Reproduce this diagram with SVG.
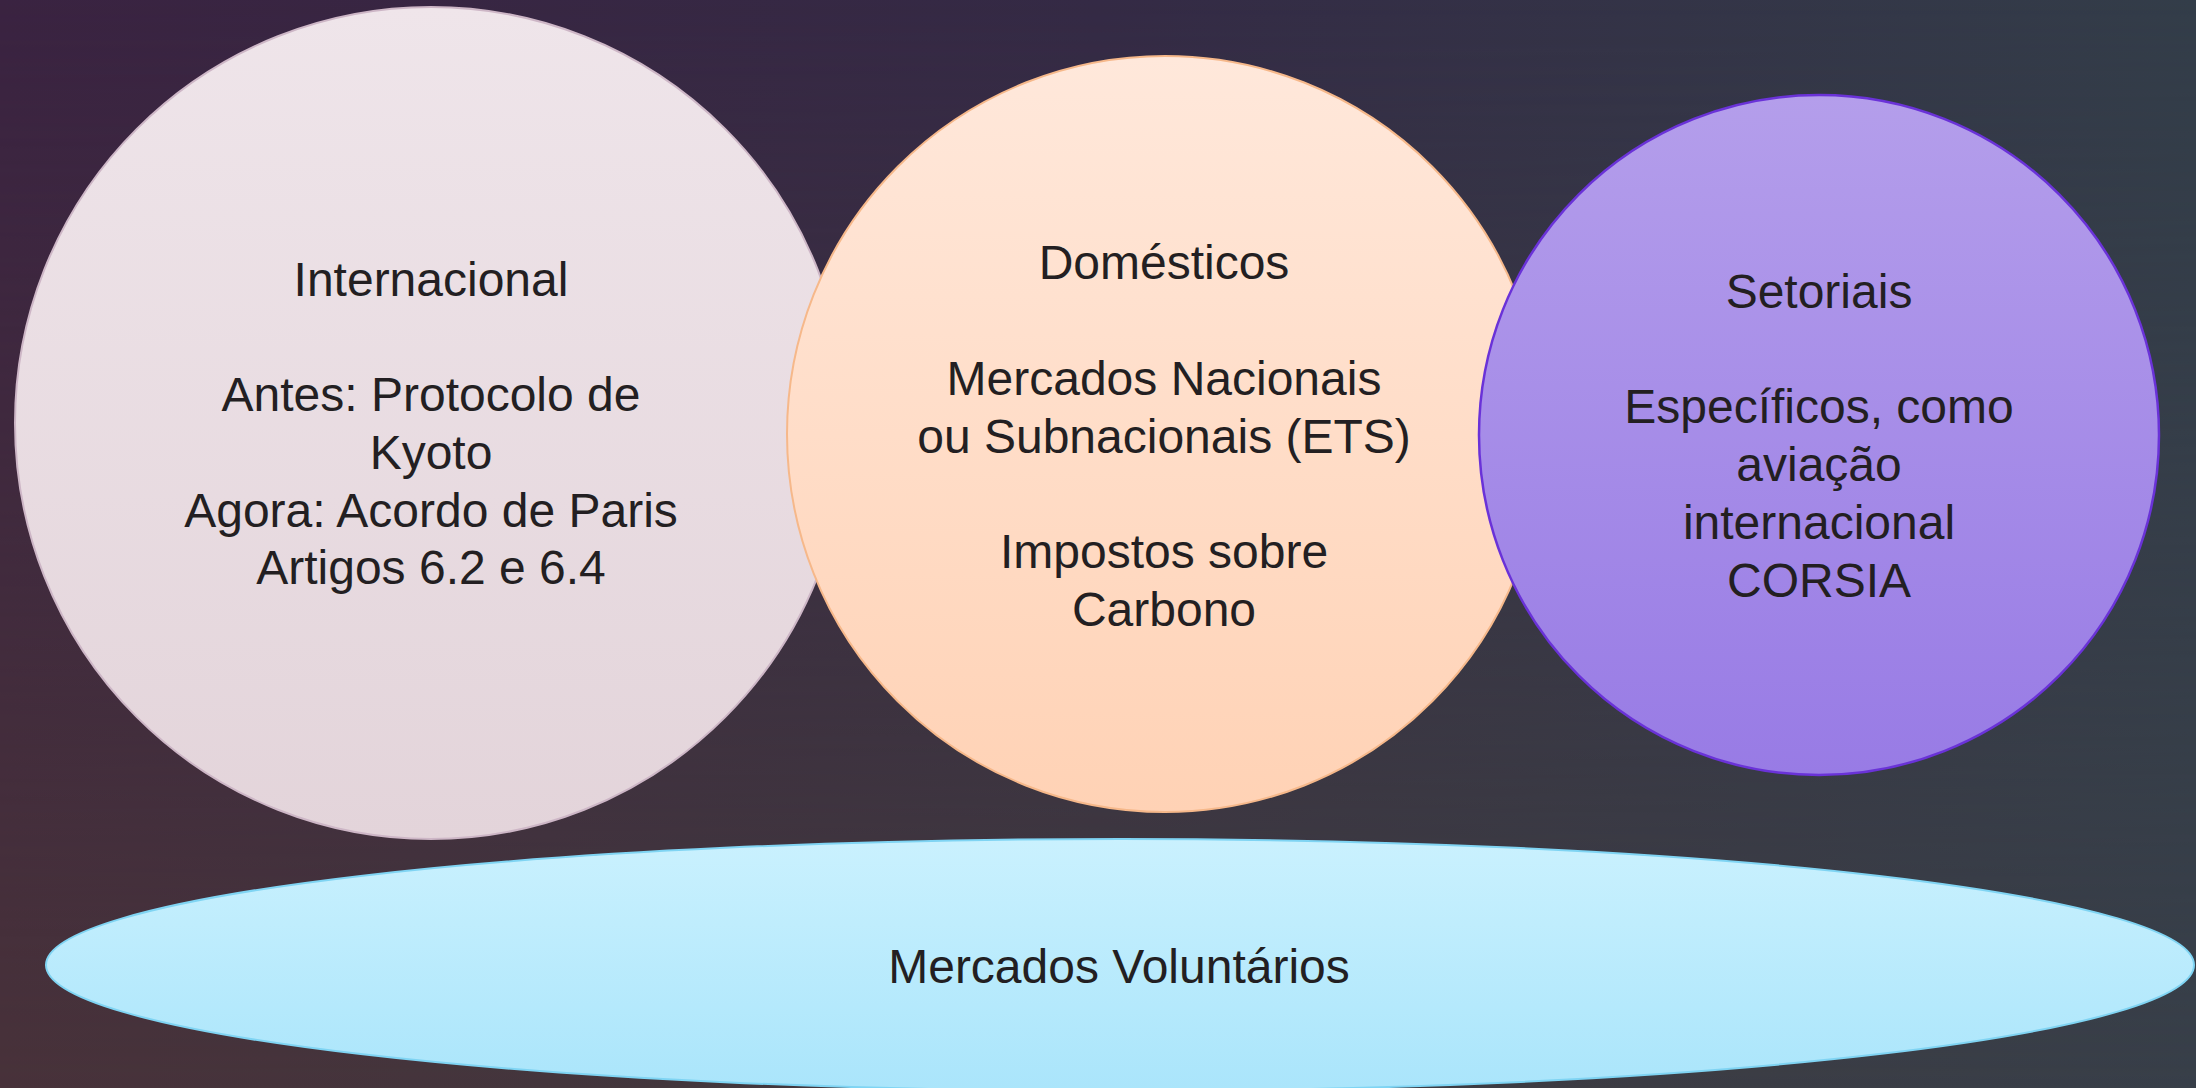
<svg xmlns="http://www.w3.org/2000/svg" width="2196" height="1088" viewBox="0 0 2196 1088">
  <defs>
    <linearGradient id="bgTop" x1="0" y1="0" x2="1" y2="0">
      <stop offset="0" stop-color="#3a2341"/>
      <stop offset="0.5" stop-color="#342a45"/>
      <stop offset="1" stop-color="#333d49"/>
    </linearGradient>
    <linearGradient id="bgBot" x1="0" y1="0" x2="1" y2="0">
      <stop offset="0" stop-color="#48323a"/>
      <stop offset="0.5" stop-color="#403a3f"/>
      <stop offset="1" stop-color="#383f49"/>
    </linearGradient>
    <linearGradient id="fadeV" x1="0" y1="0" x2="0" y2="1">
      <stop offset="0" stop-color="#fff"/>
      <stop offset="1" stop-color="#000"/>
    </linearGradient>
    <mask id="topMask" maskUnits="userSpaceOnUse" x="0" y="0" width="2196" height="1088">
      <rect x="0" y="0" width="2196" height="1088" fill="url(#fadeV)"/>
    </mask>
    <linearGradient id="gLeft" x1="0" y1="0" x2="0" y2="1">
      <stop offset="0" stop-color="#efe5ea"/>
      <stop offset="1" stop-color="#e3d4da"/>
    </linearGradient>
    <linearGradient id="gMid" x1="0" y1="0" x2="0" y2="1">
      <stop offset="0" stop-color="#ffe8db"/>
      <stop offset="1" stop-color="#ffd2b5"/>
    </linearGradient>
    <linearGradient id="gRight" x1="0" y1="0" x2="0" y2="1">
      <stop offset="0" stop-color="#b49eeb"/>
      <stop offset="1" stop-color="#987be5"/>
    </linearGradient>
    <linearGradient id="gEll" x1="0" y1="0" x2="0" y2="1">
      <stop offset="0" stop-color="#caf1fe"/>
      <stop offset="1" stop-color="#aae5fb"/>
    </linearGradient>
  </defs>
  <style>
    .lbl { font-family: "Liberation Sans", Arial, Helvetica, sans-serif; font-size: 48px; fill: #231f22; text-anchor: middle; }
  </style>
  <rect x="0" y="0" width="2196" height="1088" fill="url(#bgBot)"/>
  <rect x="0" y="0" width="2196" height="1088" fill="url(#bgTop)" mask="url(#topMask)"/>

  <g id="internacional">
    <circle cx="431" cy="423" r="416" fill="url(#gLeft)" stroke="#cdb6c6" stroke-width="2"/>
    <text class="lbl" x="431" y="296">Internacional</text>
    <text class="lbl" x="431" y="411">Antes: Protocolo de</text>
    <text class="lbl" x="431" y="469">Kyoto</text>
    <text class="lbl" x="431" y="527">Agora: Acordo de Paris</text>
    <text class="lbl" x="431" y="584">Artigos 6.2 e 6.4</text>
  </g>

  <g id="domesticos">
    <circle cx="1165" cy="434" r="378" fill="url(#gMid)" stroke="#f6b88a" stroke-width="2"/>
    <text class="lbl" x="1164" y="279">Domésticos</text>
    <text class="lbl" x="1164" y="395">Mercados Nacionais</text>
    <text class="lbl" x="1164" y="453">ou Subnacionais (ETS)</text>
    <text class="lbl" x="1164" y="568">Impostos sobre</text>
    <text class="lbl" x="1164" y="626">Carbono</text>
  </g>

  <g id="setoriais">
    <circle cx="1819" cy="435" r="340" fill="url(#gRight)" stroke="#6a32d8" stroke-width="2.5"/>
    <text class="lbl" x="1819" y="308">Setoriais</text>
    <text class="lbl" x="1819" y="423">Específicos, como</text>
    <text class="lbl" x="1819" y="481">aviação</text>
    <text class="lbl" x="1819" y="539">internacional</text>
    <text class="lbl" x="1819" y="597">CORSIA</text>
  </g>

  <g id="voluntarios">
    <ellipse cx="1120" cy="965" rx="1074" ry="126" fill="url(#gEll)" stroke="#7fd4f3" stroke-width="2"/>
    <text class="lbl" x="1119" y="983">Mercados Voluntários</text>
  </g>

  <g id="connectors"/>
</svg>
